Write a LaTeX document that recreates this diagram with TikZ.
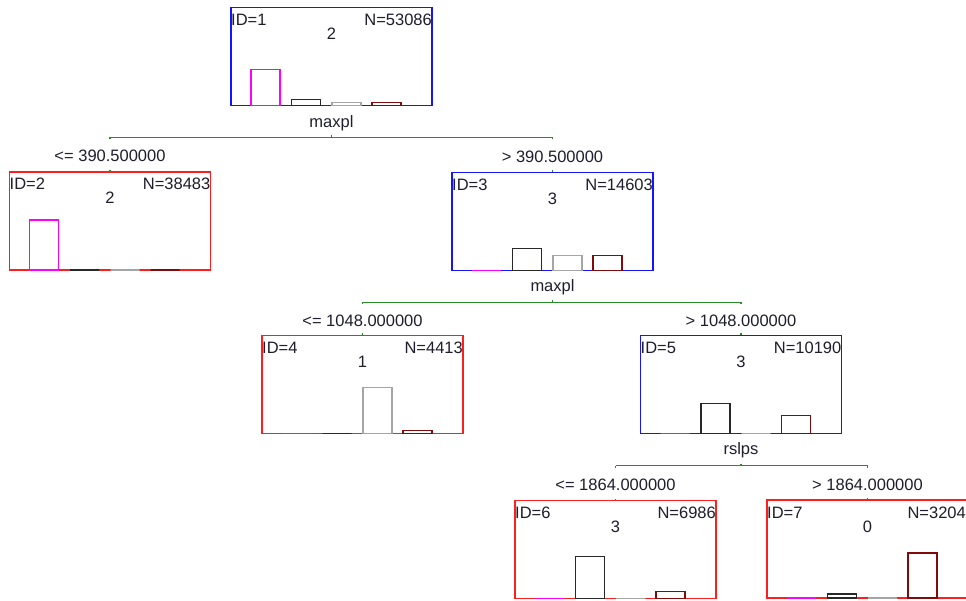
\documentclass[tikz,border=0pt]{standalone}
\usepackage{fontspec}
\setmainfont{Liberation Sans}
\definecolor{nodeblue}{RGB}{20,20,255}
\definecolor{leafred}{RGB}{255,30,30}
\definecolor{splitgreen}{RGB}{40,140,40}
\definecolor{textdark}{RGB}{30,30,45}
\definecolor{barm}{RGB}{255,0,255}
\definecolor{bark}{RGB}{40,40,40}
\definecolor{barg}{RGB}{165,165,165}
\definecolor{barr}{RGB}{130,10,10}
\begin{document}
\begin{tikzpicture}[x=1pt,y=-1pt,
  box/.style={draw,line width=1.3pt,minimum width=201pt,minimum height=98pt,inner sep=0pt,outer sep=0pt},
  inner/.style={box,draw=nodeblue},
  leaf/.style={box,draw=leafred},
  txt/.style={font=\fontsize{16.5}{18}\selectfont,text=textdark,inner sep=0pt},
  split/.style={draw=splitgreen,line width=1.2pt},
  bar/.style={line width=1.3pt}]
\clip (0,0) rectangle (966,601);
\fill[white] (0,0) rectangle (966,601);
% tree nodes
\node[inner] (n1) at (331.5,56.5) {};
\node[leaf]  (n2) at (110,221) {};
\node[inner] (n3) at (552.5,221.5) {};
\node[leaf]  (n4) at (362.5,384.5) {};
\node[inner] (n5) at (741,384.5) {};
\node[leaf]  (n6) at (615.5,549.5) {};
\node[leaf]  (n7) at (867.5,549) {};
% texts inside the nodes
\node[txt,anchor=base west] at ([yshift=-18pt]n1.north west) {ID=1};
\node[txt,anchor=base east] at ([yshift=-18pt]n1.north east) {N=53086};
\node[txt,anchor=base] at ([yshift=-32pt]n1.north) {2};
\node[txt,anchor=base west] at ([yshift=-18pt]n2.north west) {ID=2};
\node[txt,anchor=base east] at ([yshift=-18pt]n2.north east) {N=38483};
\node[txt,anchor=base] at ([yshift=-32pt]n2.north) {2};
\node[txt,anchor=base west] at ([yshift=-18pt]n3.north west) {ID=3};
\node[txt,anchor=base east] at ([yshift=-18pt]n3.north east) {N=14603};
\node[txt,anchor=base] at ([yshift=-32pt]n3.north) {3};
\node[txt,anchor=base west] at ([yshift=-18pt]n4.north west) {ID=4};
\node[txt,anchor=base east] at ([yshift=-18pt]n4.north east) {N=4413};
\node[txt,anchor=base] at ([yshift=-32pt]n4.north) {1};
\node[txt,anchor=base west] at ([yshift=-18pt]n5.north west) {ID=5};
\node[txt,anchor=base east] at ([yshift=-18pt]n5.north east) {N=10190};
\node[txt,anchor=base] at ([yshift=-32pt]n5.north) {3};
\node[txt,anchor=base west] at ([yshift=-18pt]n6.north west) {ID=6};
\node[txt,anchor=base east] at ([yshift=-18pt]n6.north east) {N=6986};
\node[txt,anchor=base] at ([yshift=-32pt]n6.north) {3};
\node[txt,anchor=base west] at ([yshift=-18pt]n7.north west) {ID=7};
\node[txt,anchor=base east] at ([xshift=-2pt,yshift=-18pt]n7.north east) {N=3204};
\node[txt,anchor=base] at ([yshift=-32pt]n7.north) {0};
% class bars
\foreach \o/\h/\c in {20/36/barm,60.5/6/bark,101/3/barg,141/3/barr}
  \draw[bar,\c] ([xshift=\o pt]n1.south west) rectangle ++(29,-\h);
\foreach \o/\h/\c in {20/50/barm,60.5/0/bark,101/0/barg,141/0/barr}
  \draw[bar,\c] ([xshift=\o pt]n2.south west) rectangle ++(29,-\h);
\foreach \o/\h/\c in {20/0/barm,60.5/22/bark,101/15/barg,141/15/barr}
  \draw[bar,\c] ([xshift=\o pt]n3.south west) rectangle ++(29,-\h);
\foreach \o/\h/\c in {20/0/barm,60.5/0/bark,101/46/barg,141/3/barr}
  \draw[bar,\c] ([xshift=\o pt]n4.south west) rectangle ++(29,-\h);
\foreach \o/\h/\c in {20/0/barm,60.5/30/bark,101/0/barg,141/18/barr}
  \draw[bar,\c] ([xshift=\o pt]n5.south west) rectangle ++(29,-\h);
\foreach \o/\h/\c in {20/0/barm,60.5/42/bark,101/0/barg,141/7/barr}
  \draw[bar,\c] ([xshift=\o pt]n6.south west) rectangle ++(29,-\h);
\foreach \o/\h/\c in {20/0/barm,60.5/4/bark,101/0/barg,141/45/barr}
  \draw[bar,\c] ([xshift=\o pt]n7.south west) rectangle ++(29,-\h);
% splits
\node[txt,anchor=base] at ([yshift=-22pt]n1.south) {maxpl};
\coordinate (s1) at ([yshift=-32pt]n1.south);
\draw[split] (s1 -| n2.north) -- (s1 -| n3.north);
\draw[split] (s1) -- ++(0,-2);
\draw[split] (s1 -| n2.north) -- ++(0,2);
\draw[split] (s1 -| n3.north) -- ++(0,2);
\draw[split] (n2.north) -- ++(0,-2);
\draw[split] (n3.north) -- ++(0,-2);
\node[txt,anchor=base] at ([yshift=10pt]n2.north) {<= 390.500000};
\node[txt,anchor=base] at ([yshift=10pt]n3.north) {> 390.500000};

\node[txt,anchor=base] at ([yshift=-21pt]n3.south) {maxpl};
\coordinate (s3) at ([yshift=-32pt]n3.south);
\draw[split] (s3 -| n4.north) -- (s3 -| n5.north);
\draw[split] (s3) -- ++(0,-2);
\draw[split] (s3 -| n4.north) -- ++(0,2);
\draw[split] (s3 -| n5.north) -- ++(0,2);
\draw[split] (n4.north) -- ++(0,-2);
\draw[split] (n5.north) -- ++(0,-2);
\node[txt,anchor=base] at ([yshift=9pt]n4.north) {<= 1048.000000};
\node[txt,anchor=base] at ([yshift=9pt]n5.north) {> 1048.000000};

\node[txt,anchor=base] at ([yshift=-21pt]n5.south) {rslps};
\coordinate (s5) at ([yshift=-32pt]n5.south);
\draw[split] (s5 -| n6.north) -- (s5 -| n7.north);
\draw[split] (s5) -- ++(0,-2);
\draw[split] (s5 -| n6.north) -- ++(0,2);
\draw[split] (s5 -| n7.north) -- ++(0,2);
\draw[split] (n6.north) -- ++(0,-2);
\draw[split] (n7.north) -- ++(0,-2);
\node[txt,anchor=base] at ([yshift=10pt]n6.north) {<= 1864.000000};
\node[txt,anchor=base] at ([yshift=10pt]n7.north) {> 1864.000000};
\end{tikzpicture}
\end{document}
